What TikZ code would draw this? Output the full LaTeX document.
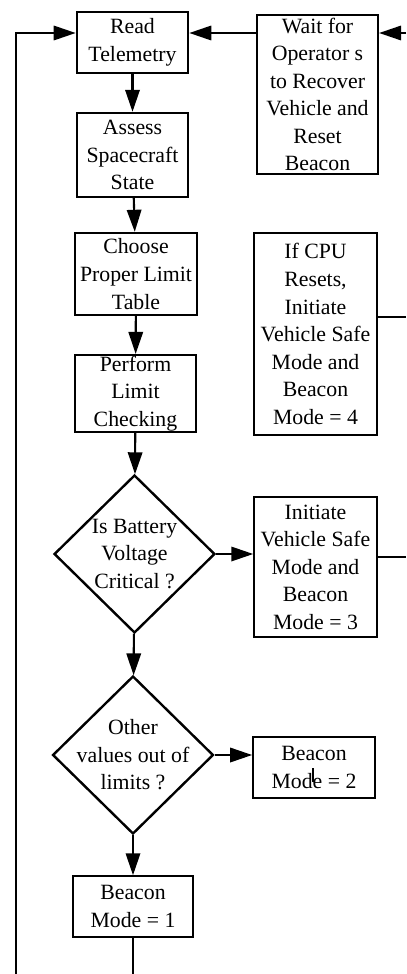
\documentclass[tikz,border=0pt]{standalone}
\usepackage{fontspec}
\setmainfont{Liberation Serif}
\usetikzlibrary{positioning,calc,arrows.meta,shapes.geometric}
\tikzset{stepbox/.style={draw, line width=1.7pt, align=center, inner sep=0pt,
	font=\fontsize{15.5}{19.6}\selectfont}}
\tikzset{thinbox/.style={stepbox, line width=1.2pt}}
\tikzset{decide/.style={draw, diamond, line width=1.7pt, align=center, inner sep=-6pt,
	minimum width=4.02cm, minimum height=3.95cm, font=\fontsize{15.5}{19.6}\selectfont}}
\tikzset{arr/.style={draw, line width=1.5pt, -{Triangle[length=0.55cm,width=0.36cm]}}}
\tikzset{ln/.style={draw, line width=1.5pt}}

\begin{document}
\begin{tikzpicture}[x=0.25mm, y=-0.25mm]
	\useasboundingbox (0,0) rectangle (406,974);
	% main column
	\node[stepbox, minimum width=2.78cm, minimum height=1.52cm] (read) at (132.5,42.5) {Read\\Telemetry};
	\node[stepbox, minimum width=2.78cm, minimum height=2.1cm] (assess) at (132.5,155) {Assess\\Spacecraft\\State};
	\node[stepbox, minimum width=3.05cm, minimum height=2.05cm] (choose) at (136,274) {Choose\\Proper Limit\\Table};
	\node[stepbox, minimum width=3.02cm, minimum height=1.92cm] (perform) at (135.5,393.5) {Perform\\Limit\\Checking};
	\node[decide] (batt) at (134.5,554) {Is Battery\\Voltage\\Critical ?};
	\node[decide] (other) at (133,755) {Other\\values out of\\limits ?};
	\node[thinbox, minimum width=3cm, minimum height=1.52cm] (b1) at (133,906.5) {Beacon\\Mode = 1};
	% right column
	\node[stepbox, minimum width=3.02cm, minimum height=3.97cm] (wait) at (317.5,94.5) {Wait for\\Operator s\\to Recover\\Vehicle and\\Reset\\Beacon};
	\node[stepbox, minimum width=3.07cm, minimum height=5.05cm] (cpu) at (315.5,334) {If CPU\\Resets,\\Initiate\\Vehicle Safe\\Mode and\\Beacon\\Mode = 4};
	\node[thinbox, minimum width=3.07cm, minimum height=3.5cm] (init) at (315.5,567) {Initiate\\Vehicle Safe\\Mode and\\Beacon\\Mode = 3};
	\node[thinbox, minimum width=3.05cm, minimum height=1.52cm] (b2) at (314,767.5) {Beacon\\Mode = 2};
	% loose ends
	\coordinate (loop) at (16,974);
	\coordinate (rin) at (406,33);
	\coordinate (rcpu) at (406,317);
	\coordinate (rinit) at (406,557);

	\draw[arr] (read) -- (assess);
	\draw[arr] (assess) -- (choose);
	\draw[arr] (choose) -- (perform);
	\draw[arr] (perform) -- (batt);
	\draw[arr] (batt) -- (other);
	\draw[arr] (other) -- (b1);
	\draw[arr] (batt.east) -- (batt.east -| init.west);
	\draw[arr] (other.east) -- (other.east -| b2.west);
	\draw[arr] (wait.west |- 0,33) -- (read.east |- 0,33);
	\draw[arr] (rin) -- (wait.east |- rin);
	\draw[arr] (loop) |- (read.west |- 0,33);
	\draw[ln] (cpu.east |- rcpu) -- (rcpu);
	\draw[ln] (init.east |- rinit) -- (rinit);
	\draw[ln] (b1.south) -- (b1.south |- loop);
	\draw[ln] ($(b2.center)+(-1,14)$) -- ($(b2.center)+(-1,0)$ |- loop);
\end{tikzpicture}
\end{document}
